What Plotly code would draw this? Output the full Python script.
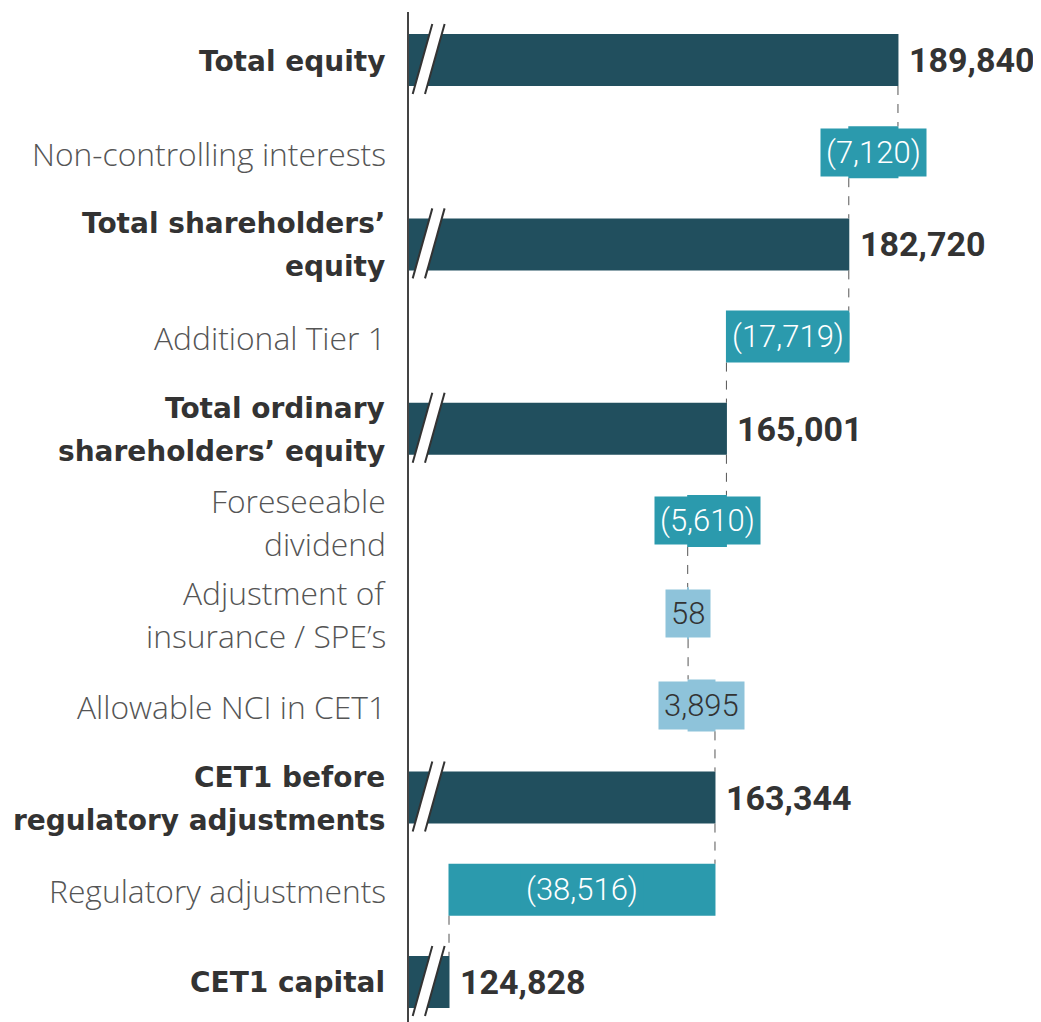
import plotly.graph_objects as go

## Data
categories = ['Total equity', 'Non-controlling interests', "Total shareholders’<br>equity",
              'Additional Tier 1', "Total ordinary<br>shareholders’ equity", 'Foreseeable<br>dividend',
              'Adjustment of<br>insurance / SPE’s', 'Allowable NCI in CET1',
              'CET1 before<br>regulatory adjustments', 'Regulatory adjustments', 'CET1 capital']
measures = ['absolute', 'relative', 'total', 'relative', 'total', 'relative',
            'relative', 'relative', 'total', 'relative', 'total']
values = [189840, -7120, 0, -17719, 0, -5610, 58, 3895, 0, -38516, 0]
labels = ['189,840', '(7,120)', '182,720', '(17,719)', '165,001', '(5,610)',
          '58', '3,895', '163,344', '(38,516)', '124,828']

DARK = '#214F5E'
TEAL = '#2B9AAD'
LIGHT = '#8EC3DA'

x_start, x_end = 118891, 208960
n = len(categories)
idx = list(range(n))

fig = go.Figure(go.Waterfall(
    orientation='h', y=idx, x=values, measure=measures, width=0.564,
    decreasing=dict(marker=dict(color=TEAL)),
    increasing=dict(marker=dict(color=LIGHT)),
    totals=dict(marker=dict(color=DARK)),
    connector=dict(mode='between', line=dict(color='#555555', width=1, dash='dash')),
    textposition='none', hoverinfo='skip',
))

# running totals for label placement
ann = []
shapes = []
run = 0
for i in idx:
    m = measures[i]
    if m == 'absolute':
        start, run = 0, values[i]
    elif m == 'relative':
        start = run
        run = run + values[i]
    else:
        start = 0
    is_total = m != 'relative'
    # category labels (one annotation per line)
    lines = categories[i].split('<br>')
    k = len(lines)
    for j, ln in enumerate(lines):
        if is_total:
            f = dict(family='DejaVu Sans', size=28, color='#333333', weight='bold')
            xs = -21
        else:
            f = dict(family='Open Sans', size=31.8, color='#555555', weight=300)
            xs = -20
        ann.append(dict(xref='paper', yref='y', x=0, y=i, xanchor='right', yanchor='middle',
                        xshift=xs, yshift=(k - 1) / 2 * 43 - j * 43 - 1, text=ln, showarrow=False, font=f))
    if is_total:
        ann.append(dict(x=run, y=i, xref='x', yref='y', xanchor='left', yanchor='middle', xshift=9,
                        text=labels[i], showarrow=False,
                        font=dict(family='Roboto', size=34, color='#333333', weight='bold')))
        # axis break marks
        shapes.append(dict(type='path', xref='x', yref='y', xsizemode='pixel', ysizemode='pixel',
                           xanchor=x_start, yanchor=i,
                           path='M 4.7,-34 L 24.3,36 L 36.3,36 L 17,-34 Z',
                           fillcolor='white', line=dict(width=0), layer='above'))
        for dx in (0, 12.3):
            shapes.append(dict(type='line', xref='x', yref='y', xsizemode='pixel', ysizemode='pixel',
                               xanchor=x_start, yanchor=i, x0=4.7 + dx, y0=-34, x1=24.3 + dx, y1=36,
                               line=dict(color='#333333', width=2), layer='above'))
    else:
        col = TEAL if values[i] < 0 else LIGHT
        ann.append(dict(x=(start + run) / 2, y=i, xref='x', yref='y', xanchor='center', yanchor='middle',
                        text=labels[i], showarrow=False, bgcolor=col, borderpad=5,
                        font=dict(family='Roboto', size=31, color='white' if values[i] < 0 else '#333333',
                                  weight=300)))

# vertical axis line
shapes.append(dict(type='line', xref='paper', yref='paper', x0=0, x1=0, y0=0, y1=0.996,
                   line=dict(color='#444444', width=2)))

fig.update_layout(
    width=1041, height=1022, margin=dict(l=400, r=19, t=0, b=0),
    plot_bgcolor='white', paper_bgcolor='white', showlegend=False,
    annotations=ann, shapes=shapes,
)
fig.update_xaxes(range=[x_start, x_end], visible=False)
fig.update_yaxes(range=[10.521, -0.564], visible=False)

fig.write_html('out.html')
